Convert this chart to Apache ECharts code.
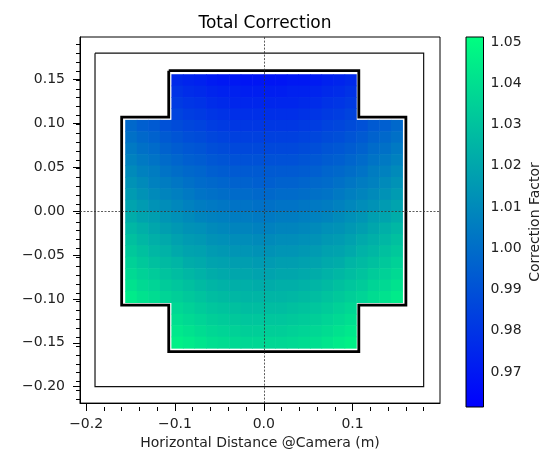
<!DOCTYPE html>
<html><head><meta charset="utf-8">
<script src="https://cdn.jsdelivr.net/npm/echarts@6/dist/echarts.min.js"></script>
<style>html,body{margin:0;padding:0;background:#fff}#c{width:550px;height:455px}</style>
</head><body><div id="c"></div>
<script>
// ---- data ----
const colCenters = [-0.1495,-0.1365,-0.1235,-0.1105,-0.0975,-0.0845,-0.0715,-0.0585,-0.0455,-0.0325,-0.0195,-0.0065,
                     0.0065, 0.0195, 0.0325, 0.0455, 0.0585, 0.0715, 0.0845, 0.0975, 0.1105, 0.1235, 0.1365, 0.1495];
const rowCenters = [ 0.1495, 0.1365, 0.1235, 0.1105, 0.0975, 0.0845, 0.0715, 0.0585, 0.0455, 0.0325, 0.0195, 0.0065,
                    -0.0065,-0.0195,-0.0325,-0.0455,-0.0585,-0.0715,-0.0845,-0.0975,-0.1105,-0.1235,-0.1365,-0.1495];
const _ = null;
const correctionRows = [
 [_,_,_,_,0.976,0.974,0.973,0.971,0.970,0.970,0.969,0.969,0.969,0.969,0.970,0.970,0.971,0.973,0.974,0.976,_,_,_,_],
 [_,_,_,_,0.979,0.977,0.976,0.974,0.973,0.973,0.972,0.972,0.972,0.972,0.973,0.973,0.974,0.976,0.977,0.979,_,_,_,_],
 [_,_,_,_,0.982,0.980,0.979,0.977,0.976,0.975,0.975,0.975,0.975,0.975,0.975,0.976,0.977,0.979,0.980,0.982,_,_,_,_],
 [_,_,_,_,0.985,0.983,0.982,0.980,0.979,0.978,0.978,0.978,0.978,0.978,0.978,0.979,0.980,0.982,0.983,0.985,_,_,_,_],
 [0.998,0.995,0.993,0.990,0.988,0.986,0.985,0.983,0.982,0.981,0.981,0.981,0.981,0.981,0.981,0.982,0.983,0.985,0.986,0.988,0.990,0.993,0.995,0.998],
 [1.001,0.998,0.996,0.993,0.991,0.989,0.988,0.986,0.985,0.984,0.984,0.984,0.984,0.984,0.984,0.985,0.986,0.988,0.989,0.991,0.993,0.996,0.998,1.001],
 [1.004,1.001,0.999,0.996,0.994,0.992,0.991,0.989,0.988,0.987,0.987,0.987,0.987,0.987,0.987,0.988,0.989,0.991,0.992,0.994,0.996,0.999,1.001,1.004],
 [1.007,1.004,1.002,0.999,0.997,0.995,0.994,0.992,0.991,0.990,0.990,0.990,0.990,0.990,0.990,0.991,0.992,0.994,0.995,0.997,0.999,1.002,1.004,1.007],
 [1.010,1.007,1.005,1.002,1.000,0.998,0.997,0.995,0.994,0.993,0.993,0.993,0.993,0.993,0.993,0.994,0.995,0.997,0.998,1.000,1.002,1.005,1.007,1.010],
 [1.013,1.010,1.007,1.005,1.003,1.001,0.999,0.998,0.997,0.996,0.996,0.995,0.995,0.996,0.996,0.997,0.998,0.999,1.001,1.003,1.005,1.007,1.010,1.013],
 [1.016,1.013,1.010,1.008,1.006,1.004,1.002,1.001,1.000,0.999,0.999,0.998,0.998,0.999,0.999,1.000,1.001,1.002,1.004,1.006,1.008,1.010,1.013,1.016],
 [1.019,1.016,1.013,1.011,1.009,1.007,1.005,1.004,1.003,1.002,1.002,1.001,1.001,1.002,1.002,1.003,1.004,1.005,1.007,1.009,1.011,1.013,1.016,1.019],
 [1.022,1.019,1.017,1.014,1.012,1.010,1.008,1.007,1.006,1.005,1.005,1.004,1.004,1.005,1.005,1.006,1.007,1.008,1.010,1.012,1.014,1.017,1.019,1.022],
 [1.026,1.023,1.020,1.017,1.015,1.013,1.012,1.010,1.009,1.008,1.008,1.007,1.007,1.008,1.008,1.009,1.010,1.012,1.013,1.015,1.017,1.020,1.023,1.026],
 [1.029,1.026,1.023,1.021,1.018,1.016,1.015,1.013,1.012,1.011,1.011,1.010,1.010,1.011,1.011,1.012,1.013,1.015,1.016,1.018,1.021,1.023,1.026,1.029],
 [1.032,1.029,1.026,1.024,1.021,1.019,1.018,1.016,1.015,1.014,1.014,1.013,1.013,1.014,1.014,1.015,1.016,1.018,1.019,1.021,1.024,1.026,1.029,1.032],
 [1.035,1.032,1.029,1.027,1.025,1.022,1.021,1.019,1.018,1.017,1.017,1.016,1.016,1.017,1.017,1.018,1.019,1.021,1.022,1.025,1.027,1.029,1.032,1.035],
 [1.038,1.035,1.033,1.030,1.028,1.026,1.024,1.022,1.021,1.020,1.020,1.019,1.019,1.020,1.020,1.021,1.022,1.024,1.026,1.028,1.030,1.033,1.035,1.038],
 [1.041,1.038,1.036,1.033,1.031,1.029,1.027,1.025,1.024,1.023,1.023,1.022,1.022,1.023,1.023,1.024,1.025,1.027,1.029,1.031,1.033,1.036,1.038,1.041],
 [1.044,1.041,1.039,1.036,1.034,1.032,1.030,1.028,1.027,1.026,1.025,1.025,1.025,1.025,1.026,1.027,1.028,1.030,1.032,1.034,1.036,1.039,1.041,1.044],
 [_,_,_,_,1.037,1.035,1.033,1.031,1.030,1.029,1.028,1.028,1.028,1.028,1.029,1.030,1.031,1.033,1.035,1.037,_,_,_,_],
 [_,_,_,_,1.040,1.038,1.036,1.034,1.033,1.032,1.031,1.031,1.031,1.031,1.032,1.033,1.034,1.036,1.038,1.040,_,_,_,_],
 [_,_,_,_,1.043,1.041,1.039,1.037,1.036,1.035,1.034,1.034,1.034,1.034,1.035,1.036,1.037,1.039,1.041,1.043,_,_,_,_],
 [_,_,_,_,1.046,1.044,1.042,1.040,1.039,1.038,1.037,1.037,1.037,1.037,1.038,1.039,1.040,1.042,1.044,1.046,_,_,_,_]
];
const xMajorTicks = [-0.2, -0.1, 0.0, 0.1];
const xMinorTicks = [-0.2,-0.18,-0.16,-0.14,-0.12,-0.1,-0.08,-0.06,-0.04,-0.02,0,0.02,0.04,0.06,0.08,0.1,0.12,0.14,0.16,0.18];
const yMajorTicks = [-0.2, -0.15, -0.1, -0.05, 0.0, 0.05, 0.1, 0.15];
const yMinorTicks = [-0.21,-0.2,-0.19,-0.18,-0.17,-0.16,-0.15,-0.14,-0.13,-0.12,-0.11,-0.1,-0.09,-0.08,-0.07,-0.06,-0.05,-0.04,-0.03,-0.02,-0.01,0,
                     0.01,0.02,0.03,0.04,0.05,0.06,0.07,0.08,0.09,0.1,0.11,0.12,0.13,0.14,0.15,0.16,0.17,0.18,0.19];
const colorbarTicks = [0.97, 0.98, 0.99, 1.00, 1.01, 1.02, 1.03, 1.04, 1.05];
const colorRange = [0.9615, 1.0512];
const outerRectX = [-0.19, 0.18, 0.18, -0.19, -0.19];
const outerRectY = [0.18, 0.18, -0.20, -0.20, 0.18];
const outlineX = [-0.107, 0.107, 0.107, 0.16, 0.16, 0.107, 0.107, -0.107, -0.107, -0.16, -0.16, -0.107, -0.107];
const outlineY = [0.16, 0.16, 0.107, 0.107, -0.107, -0.107, -0.16, -0.16, -0.107, -0.107, 0.107, 0.107, 0.16];
const crosshairX = [0];
const crosshairY = [0];

// ---- layout / style ----
const X_RANGE = [-0.2069, 0.1984];
const Y_RANGE = [-0.2187, 0.1984];
const HALF = 0.0065;
const FONT = 'DejaVu Sans';
const GRID = {left: 80, top: 37, width: 360, height: 370};

const cells = [];
correctionRows.forEach((row, r) => row.forEach((v, c) => {
  if (v !== null) cells.push([colCenters[c], rowCenters[r], v]);
}));
const outerRect = outerRectX.map((x, i) => [x, outerRectY[i]]);
const outline = outlineX.map((x, i) => [x, outlineY[i]]);

const fmtSigned = d => v => (v < -1e-9 ? '\u2212' : '') + Math.abs(v).toFixed(d);
const tickStyle = {color: '#000', width: 1};
const labelStyle = {fontFamily: FONT, fontSize: 14, color: '#222'};

const chart = echarts.init(document.getElementById('c'), null, {renderer: 'canvas'});
chart.setOption({
  animation: false,
  backgroundColor: '#fff',
  title: {text: 'Total Correction', left: 260, top: 10, textAlign: 'center',
    textStyle: {fontFamily: FONT, fontSize: 17, fontWeight: 'normal', color: '#000'}},
  grid: [
    Object.assign({show: true, borderColor: '#000', borderWidth: 1, backgroundColor: 'transparent'}, GRID),
    Object.assign({show: false}, GRID),
    {left: 466, top: 37, width: 17.5, height: 370, show: false}
  ],
  visualMap: {show: false, type: 'continuous', seriesIndex: 0, dimension: 2,
    min: colorRange[0], max: colorRange[1], inRange: {color: ['#0000ff', '#00ff80']}},
  xAxis: [
    {type: 'value', gridIndex: 0, min: X_RANGE[0], max: X_RANGE[1],
      axisLine: {show: true, onZero: false, lineStyle: tickStyle},
      axisTick: {show: true, customValues: xMajorTicks, length: 7, lineStyle: tickStyle},
      axisLabel: Object.assign({customValues: xMajorTicks, formatter: fmtSigned(1), margin: 14}, labelStyle),
      splitLine: {show: false},
      name: 'Horizontal Distance @Camera (m)', nameLocation: 'middle', nameGap: 31,
      nameTextStyle: {fontFamily: FONT, fontSize: 14, color: '#222'}},
    {type: 'value', gridIndex: 1, min: X_RANGE[0], max: X_RANGE[1],
      axisLine: {show: false, onZero: false},
      axisTick: {show: true, customValues: xMinorTicks, length: 4, lineStyle: tickStyle},
      axisLabel: {show: false}, splitLine: {show: false}},
    {type: 'value', gridIndex: 2, min: 0, max: 1, show: false}
  ],
  yAxis: [
    {type: 'value', gridIndex: 0, min: Y_RANGE[0], max: Y_RANGE[1],
      axisLine: {show: true, onZero: false, lineStyle: tickStyle},
      axisTick: {show: true, customValues: yMajorTicks, length: 7, lineStyle: tickStyle},
      axisLabel: Object.assign({customValues: yMajorTicks, formatter: fmtSigned(2), margin: 15}, labelStyle),
      splitLine: {show: false}},
    {type: 'value', gridIndex: 1, min: Y_RANGE[0], max: Y_RANGE[1],
      axisLine: {show: false, onZero: false},
      axisTick: {show: true, customValues: yMinorTicks, length: 4, lineStyle: tickStyle},
      axisLabel: {show: false}, splitLine: {show: false}},
    {type: 'value', gridIndex: 2, position: 'right', min: colorRange[0], max: colorRange[1],
      axisLine: {show: false},
      axisTick: {show: true, customValues: colorbarTicks, length: 5, lineStyle: tickStyle},
      axisLabel: Object.assign({customValues: colorbarTicks, formatter: v => v.toFixed(2), margin: 7}, labelStyle),
      splitLine: {show: false},
      name: 'Correction Factor', nameLocation: 'middle', nameRotate: 90, nameGap: 45,
      nameTextStyle: {fontFamily: FONT, fontSize: 14, color: '#222'}}
  ],
  series: [
    {type: 'custom', xAxisIndex: 0, yAxisIndex: 0, z: 1, data: cells, encode: {x: 0, y: 1},
      renderItem: (params, api) => {
        const x = api.value(0), y = api.value(1);
        const p0 = api.coord([x - HALF, y + HALF]);
        const p1 = api.coord([x + HALF, y - HALF]);
        return {type: 'rect', shape: {x: p0[0], y: p0[1], width: p1[0] - p0[0] + 0.6, height: p1[1] - p0[1] + 0.6},
          style: {fill: api.visual('color')}};
      }},
    {type: 'line', xAxisIndex: 0, yAxisIndex: 0, z: 3, data: outline, symbol: 'none', silent: true,
      lineStyle: {color: '#000', width: 2.8, join: 'miter'}},
    {type: 'line', xAxisIndex: 0, yAxisIndex: 0, z: 4, data: outerRect, symbol: 'none', silent: true,
      lineStyle: {color: '#111', width: 1.2, join: 'miter'},
      markLine: {silent: true, symbol: ['none', 'none'], label: {show: false},
        lineStyle: {color: '#333', width: 0.8, type: [2, 1.5]},
        data: crosshairX.map(v => ({xAxis: v})).concat(crosshairY.map(v => ({yAxis: v})))}},
    {type: 'custom', xAxisIndex: 2, yAxisIndex: 2, z: 2, data: [[0, colorRange[0]]], encode: {x: 0, y: 1}, clip: false,
      renderItem: (params, api) => {
        const p0 = api.coord([0, colorRange[1]]);
        const p1 = api.coord([1, colorRange[0]]);
        return {type: 'rect', shape: {x: p0[0], y: p0[1], width: p1[0] - p0[0], height: p1[1] - p0[1]},
          style: {fill: new echarts.graphic.LinearGradient(0, 1, 0, 0,
            [{offset: 0, color: '#0000ff'}, {offset: 1, color: '#00ff80'}]), stroke: '#000', lineWidth: 1}};
      }}
  ]
});
</script></body></html>
